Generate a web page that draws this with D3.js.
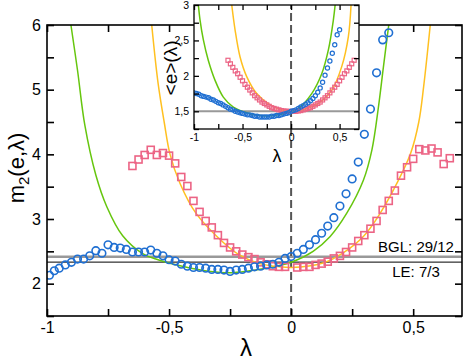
<!DOCTYPE html>
<html>
<head>
<meta charset="utf-8">
<script src="https://cdn.jsdelivr.net/npm/d3@7"></script>
<style>
  body { margin: 0; background: #fff; }
  svg { display: block; font-family: "Liberation Sans", Arial, sans-serif; }
</style>
</head>
<body>
<div id="chart"></div>
<script>
// ---- data ----
// main panel: m2(e, lambda)
const blueLam = [-0.99, -0.97, -0.95, -0.925, -0.9, -0.875, -0.85, -0.825, -0.8, -0.775, -0.75, -0.725, -0.7, -0.675, -0.65, -0.625, -0.6, -0.575, -0.55, -0.525, -0.5, -0.475, -0.45, -0.425, -0.4, -0.375, -0.35, -0.325, -0.3, -0.275, -0.25, -0.225, -0.2, -0.175, -0.15, -0.125, -0.1, -0.075, -0.05, -0.025, 0, 0.025, 0.05, 0.075, 0.1, 0.125, 0.15, 0.175, 0.2, 0.225, 0.25, 0.275, 0.3, 0.325, 0.35, 0.375, 0.4];
const blueM2 = [2.13, 2.20, 2.24, 2.29, 2.33, 2.38, 2.38, 2.43, 2.51, 2.47, 2.60, 2.56, 2.55, 2.53, 2.49, 2.49, 2.49, 2.52, 2.47, 2.43, 2.37, 2.35, 2.30, 2.27, 2.25, 2.25, 2.24, 2.22, 2.22, 2.21, 2.19, 2.21, 2.22, 2.24, 2.26, 2.27, 2.29, 2.30, 2.33, 2.39, 2.42, 2.47, 2.53, 2.60, 2.68, 2.78, 2.89, 3.02, 3.20, 3.39, 3.62, 3.88, 4.31, 4.70, 5.26, 5.77, 5.88];

const pinkLam = [-0.65, -0.625, -0.6, -0.575, -0.55, -0.525, -0.5, -0.475, -0.45, -0.425, -0.4, -0.375, -0.35, -0.325, -0.3, -0.275, -0.25, -0.225, -0.2, -0.175, -0.15, -0.125, -0.1, -0.075, -0.05, -0.025, 0.025, 0.05, 0.075, 0.1, 0.125, 0.15, 0.175, 0.2, 0.225, 0.25, 0.275, 0.3, 0.325, 0.35, 0.375, 0.4, 0.425, 0.45, 0.475, 0.5, 0.525, 0.55, 0.575, 0.6, 0.625, 0.65];
const pinkM2 = [3.82, 3.92, 3.99, 4.07, 3.99, 4.02, 3.98, 3.86, 3.65, 3.51, 3.28, 3.11, 2.97, 2.87, 2.75, 2.63, 2.56, 2.50, 2.45, 2.41, 2.38, 2.33, 2.30, 2.27, 2.26, 2.26, 2.25, 2.26, 2.26, 2.29, 2.31, 2.34, 2.39, 2.43, 2.49, 2.56, 2.66, 2.75, 2.85, 2.97, 3.14, 3.28, 3.44, 3.67, 3.80, 3.93, 4.08, 4.06, 4.09, 4.03, 3.85, 3.94];

const greenLam = [-0.902, -0.875, -0.845, -0.8, -0.755, -0.69, -0.61, -0.545, -0.48, -0.41, -0.33, -0.25, -0.17, -0.085, 0, 0.09, 0.16, 0.228, 0.296, 0.331, 0.358, 0.378, 0.4];
const greenM2 = [6.0, 5.3, 4.45, 3.68, 3.19, 2.74, 2.47, 2.37, 2.30, 2.24, 2.19, 2.17, 2.20, 2.25, 2.33, 2.50, 2.73, 3.09, 3.60, 4.07, 4.74, 5.35, 6.0];

const orangeLam = [-0.571, -0.545, -0.52, -0.496, -0.455, -0.39, -0.29, -0.21, -0.13, -0.045, 0, 0.13, 0.21, 0.296, 0.365, 0.433, 0.49, 0.523, 0.543, 0.57];
const orangeM2 = [6.0, 5.1, 4.5, 4.0, 3.55, 3.09, 2.68, 2.44, 2.31, 2.26, 2.25, 2.32, 2.47, 2.73, 3.09, 3.55, 4.02, 4.5, 5.05, 6.0];

// reference levels
const levelBGL = 29 / 12;
const levelLE = 7 / 3;

// inset: <e>(lambda)
const insBlueLam = d3.range(0, 61).map(i => -1 + i * 0.025);
const insBlueE = [1.76, 1.75, 1.74, 1.72, 1.71, 1.70, 1.69, 1.67, 1.66, 1.64, 1.62, 1.61, 1.59, 1.57, 1.55, 1.53, 1.52, 1.50, 1.49, 1.48, 1.47, 1.46, 1.45, 1.45, 1.44, 1.43, 1.43, 1.42, 1.42, 1.42, 1.42, 1.42, 1.43, 1.43, 1.44, 1.44, 1.45, 1.46, 1.47, 1.48, 1.50, 1.51, 1.52, 1.54, 1.56, 1.58, 1.60, 1.62, 1.65, 1.68, 1.72, 1.77, 1.83, 1.91, 2.01, 2.11, 2.21, 2.32, 2.44, 2.58, 2.65];

const insPinkLam = pinkLam;
const insPinkE = [2.22, 2.17, 2.12, 2.07, 2.03, 1.98, 1.93, 1.88, 1.84, 1.80, 1.76, 1.72, 1.69, 1.66, 1.63, 1.61, 1.59, 1.57, 1.55, 1.54, 1.53, 1.52, 1.51, 1.505, 1.50, 1.50, 1.50, 1.50, 1.505, 1.51, 1.52, 1.53, 1.54, 1.55, 1.57, 1.59, 1.61, 1.63, 1.66, 1.69, 1.72, 1.76, 1.80, 1.84, 1.88, 1.93, 1.98, 2.03, 2.07, 2.12, 2.17, 2.22];

const insGreenLam = [-0.955, -0.938, -0.904, -0.853, -0.784, -0.698, -0.595, -0.457, -0.32, -0.18, -0.01, 0.075, 0.213, 0.316, 0.385, 0.436, 0.454];
const insGreenE = [3.0, 2.79, 2.51, 2.22, 1.94, 1.70, 1.56, 1.48, 1.44, 1.44, 1.49, 1.54, 1.75, 2.03, 2.37, 2.79, 3.0];

const insOrangeLam = [-0.611, -0.577, -0.526, -0.457, -0.354, -0.216, -0.044, 0, 0.144, 0.28, 0.42, 0.522, 0.59, 0.618];
const insOrangeE = [3.0, 2.65, 2.27, 1.99, 1.75, 1.59, 1.50, 1.50, 1.53, 1.61, 1.80, 2.13, 2.55, 3.0];
const insLevel = 1.5;

const xTicks = d3.range(-1, 0.71, 0.25);
const mainYTicks = d3.range(1.5, 6.01, 0.5);
const insYTicks = d3.range(1.25, 3.01, 0.25);

// ---- colours ----
const cBlue = "#1f6fd2", cPink = "#ec6485", cGreen = "#66c60e", cOrange = "#ffc020";

const width = 463, height = 360;
const svg = d3.select("#chart").append("svg")
    .attr("width", width)
    .attr("height", height);

const fmt = d3.formatLocale({ decimal: ",", thousands: ".", grouping: [3], currency: ["", ""], minus: "-" }).format("~g");
const isHalf = d => Math.abs(d * 2 - Math.round(d * 2)) < 1e-6;
const isInt = d => Math.abs(d - Math.round(d)) < 1e-6;

// draws one panel: frame, ticks, curves and markers
function panel(g, x, y, opt) {
    const [x0, x1] = x.range();
    const [y0, y1] = y.range();

    g.append("defs").append("clipPath").attr("id", opt.id)
        .append("rect").attr("x", x0).attr("y", y1).attr("width", x1 - x0).attr("height", y0 - y1);

    g.append("rect")
        .attr("x", x0).attr("y", y1).attr("width", x1 - x0).attr("height", y0 - y1)
        .attr("fill", "#fff");

    const plot = g.append("g").attr("clip-path", `url(#${opt.id})`);

    // horizontal reference lines
    opt.levels.forEach(l => {
        plot.append("line")
            .attr("x1", x0).attr("x2", x1)
            .attr("y1", y(l.v)).attr("y2", y(l.v))
            .attr("stroke", l.color).attr("stroke-width", l.w);
    });

    // dashed line at lambda = 0
    plot.append("line")
        .attr("x1", x(0)).attr("x2", x(0))
        .attr("y1", y0).attr("y2", y1)
        .attr("stroke", "#555").attr("stroke-width", 2)
        .attr("stroke-dasharray", "8,4");

    const line = d3.line().x(d => x(d[0])).y(d => y(d[1])).curve(d3.curveCatmullRom.alpha(0.5));
    opt.curves.forEach(c => {
        plot.append("path")
            .datum(d3.zip(c.lam, c.val))
            .attr("d", line)
            .attr("fill", "none")
            .attr("stroke", c.color)
            .attr("stroke-width", 1.5);
    });

    plot.selectAll("rect.sq")
        .data(d3.zip(opt.pink.lam, opt.pink.val))
        .join("rect")
        .attr("class", "sq")
        .attr("x", d => x(d[0]) - opt.sq / 2)
        .attr("y", d => y(d[1]) - opt.sq / 2)
        .attr("width", opt.sq).attr("height", opt.sq)
        .attr("fill", "none").attr("stroke", cPink).attr("stroke-width", opt.mw);

    plot.selectAll("circle")
        .data(d3.zip(opt.blue.lam, opt.blue.val))
        .join("circle")
        .attr("cx", d => x(d[0]))
        .attr("cy", d => y(d[1]))
        .attr("r", opt.r)
        .attr("fill", "none").attr("stroke", cBlue).attr("stroke-width", opt.mw);

    // axes, ticks pointing inwards
    const t = opt.tick;
    const axes = [
        [d3.axisBottom(x).tickValues(xTicks).tickFormat(d => isHalf(d) ? fmt(d) : ""), `translate(0,${y0})`],
        [d3.axisTop(x).tickValues(xTicks).tickFormat(""), `translate(0,${y1})`],
        [d3.axisLeft(y).tickValues(opt.yTicks).tickFormat(d => opt.yLabel(d) ? fmt(d) : ""), `translate(${x0},0)`],
        [d3.axisRight(y).tickValues(opt.yTicks).tickFormat(""), `translate(${x1},0)`]
    ];
    axes.forEach(([ax, tr]) => {
        const a = g.append("g").attr("transform", tr)
            .call(ax.tickSizeInner(-t).tickSizeOuter(0).tickPadding(opt.pad));
        a.select(".domain").remove();
        a.selectAll("line").attr("stroke", "#000").attr("stroke-width", opt.frame);
        a.selectAll("text").attr("font-size", opt.font).attr("fill", "#000").attr("font-family", null);
    });

    g.append("rect")
        .attr("x", x0).attr("y", y1).attr("width", x1 - x0).attr("height", y0 - y1)
        .attr("fill", "none").attr("stroke", "#000").attr("stroke-width", opt.frame);
}

// ---- main panel ----
const x = d3.scaleLinear().domain([-1, 0.7]).range([47, 462]);
const y = d3.scaleLinear().domain([1.5, 6]).range([316, 25]);

const main = svg.append("g");
panel(main, x, y, {
    id: "clipMain",
    levels: [{ v: levelBGL, color: "#999", w: 2.5 }, { v: levelLE, color: "#000", w: 1 }],
    curves: [{ lam: greenLam, val: greenM2, color: cGreen }, { lam: orangeLam, val: orangeM2, color: cOrange }],
    blue: { lam: blueLam, val: blueM2 },
    pink: { lam: pinkLam, val: pinkM2 },
    r: 3.8, sq: 7, mw: 1.6,
    yTicks: mainYTicks, yLabel: isInt,
    tick: 7, pad: 6, font: 16, frame: 1.6
});

main.append("text")
    .attr("x", 416).attr("y", 252)
    .attr("text-anchor", "middle").attr("font-size", 15)
    .text("BGL: 29/12");
main.append("text")
    .attr("x", 416).attr("y", 277)
    .attr("text-anchor", "middle").attr("font-size", 15)
    .text("LE: 7/3");

// axis titles
const yTitle = main.append("text")
    .attr("transform", "translate(24,168) rotate(-90)")
    .attr("text-anchor", "middle").attr("font-size", 22);
yTitle.append("tspan").text("m");
yTitle.append("tspan").attr("font-size", 15).attr("dy", 5).text("2");
yTitle.append("tspan").attr("dy", -5).text("(e,λ)");

main.append("text")
    .attr("x", 246).attr("y", 356)
    .attr("text-anchor", "middle").attr("font-size", 24)
    .text("λ");

// ---- inset ----
const xi = d3.scaleLinear().domain([-1, 0.7]).range([194, 359]);
const yi = d3.scaleLinear().domain([1.25, 3]).range([129, 5]);

const inset = svg.append("g");
panel(inset, xi, yi, {
    id: "clipInset",
    levels: [{ v: insLevel, color: "#999", w: 2 }],
    curves: [{ lam: insGreenLam, val: insGreenE, color: cGreen }, { lam: insOrangeLam, val: insOrangeE, color: cOrange }],
    blue: { lam: insBlueLam, val: insBlueE },
    pink: { lam: insPinkLam, val: insPinkE },
    r: 2.1, sq: 4, mw: 1.2,
    yTicks: insYTicks, yLabel: isHalf,
    tick: 5, pad: 5, font: 10.5, frame: 1.3
});

inset.append("text")
    .attr("transform", "translate(177,68) rotate(-90)")
    .attr("text-anchor", "middle").attr("font-size", 19)
    .text("<e>(λ)");

inset.append("text")
    .attr("x", 277).attr("y", 162)
    .attr("text-anchor", "middle").attr("font-size", 18)
    .text("λ");
</script>
</body>
</html>
